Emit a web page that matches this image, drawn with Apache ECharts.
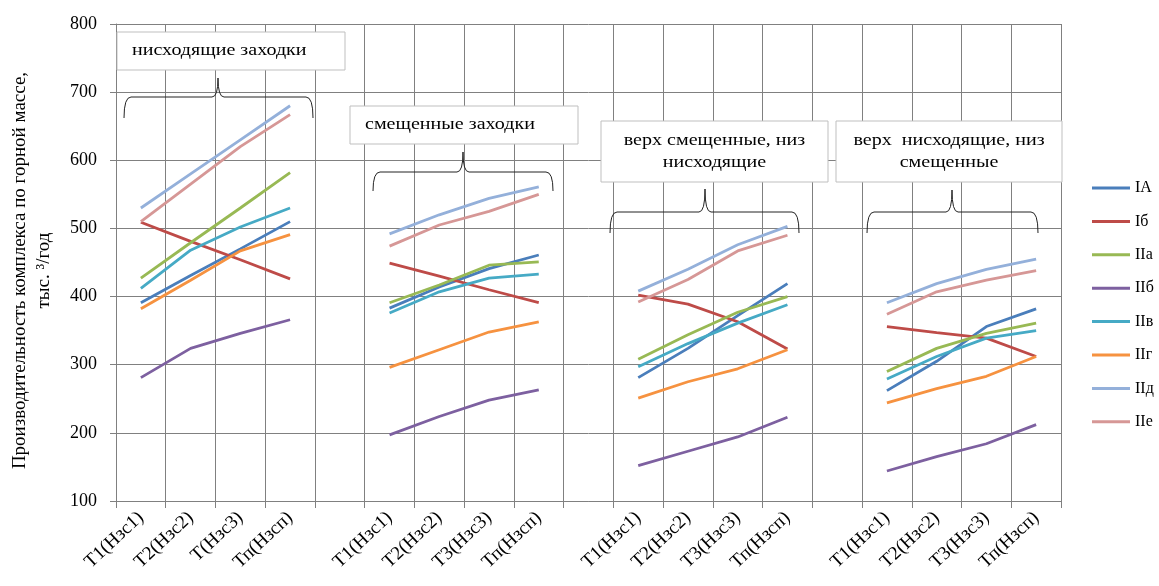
<!DOCTYPE html>
<html>
<head>
<meta charset="utf-8">
<script src="https://cdn.jsdelivr.net/npm/echarts@6/dist/echarts.min.js"></script>
<style>
html,body{margin:0;padding:0;background:#fff;}
#chart{width:1159px;height:586px;}
</style>
</head>
<body>
<div id="chart"></div>
<script>
const categories = [
  'Т1(Нзс1)','Т2(Нзс2)','Т(Нзс3)','Тп(Нзсп)','',
  'Т1(Нзс1)','Т2(Нзс2)','Т3(Нзс3)','Тп(Нзсп)','',
  'Т1(Нзс1)','Т2(Нзс2)','Т3(Нзс3)','Тп(Нзсп)','',
  'Т1(Нзс1)','Т2(Нзс2)','Т3(Нзс3)','Тп(Нзсп)'
];
const seriesNames = ['IA','Iб','IIа','IIб','IIв','IIг','IIд','IIе'];
const sIA  = [391,431,470,510,null, 383,414,441,461,null, 281,324,372,419,null, 262,305,356,382];
const sIb  = [509,481,454,426,null, 449,430,410,391,null, 402,389,363,323,null, 356,347,339,312];
const sIIa = [427,479,530,582,null, 391,417,446,451,null, 308,344,377,400,null, 290,324,346,361];
const sIIb = [281,324,346,366,null, 197,224,248,263,null, 152,173,194,223,null, 144,165,184,212];
const sIIv = [412,468,502,530,null, 376,407,427,433,null, 297,331,361,388,null, 279,312,339,350];
const sIIg = [382,424,467,491,null, 296,322,348,363,null, 251,275,294,322,null, 244,265,283,312];
const sIId = [530,580,630,680,null, 492,520,544,561,null, 408,440,476,503,null, 391,419,440,455];
const sIIe = [510,565,620,667,null, 474,505,525,550,null, 392,425,467,490,null, 374,407,424,438];
const yTicks = [100,200,300,400,500,600,700,800];

const colors = ['#4A7EBB','#BE4B48','#98B954','#7D60A0','#46AAC5','#F69240','#94B0DA','#D69796'];
const allData = [sIA,sIb,sIIa,sIIb,sIIv,sIIg,sIId,sIIe];

const FONT = '"Liberation Serif","DejaVu Serif",serif';
const braceStyle = {fill:null, stroke:'#222', lineWidth:1};

function brace(x1, x2, yh, yb, xp, yp) {
  const els = [];
  els.push({type:'bezierCurve', z:100, shape:{x1:x1, y1:yb, cpx1:x1, cpy1:yh, x2:x1+7, y2:yh}, style:braceStyle});
  els.push({type:'line', z:100, shape:{x1:x1+7, y1:yh, x2:xp-6, y2:yh}, style:braceStyle});
  els.push({type:'bezierCurve', z:100, shape:{x1:xp-6, y1:yh, cpx1:xp, cpy1:yh, x2:xp, y2:yp}, style:braceStyle});
  els.push({type:'bezierCurve', z:100, shape:{x1:xp, y1:yp, cpx1:xp, cpy1:yh, x2:xp+6, y2:yh}, style:braceStyle});
  els.push({type:'line', z:100, shape:{x1:xp+6, y1:yh, x2:x2-7, y2:yh}, style:braceStyle});
  els.push({type:'bezierCurve', z:100, shape:{x1:x2-7, y1:yh, cpx1:x2, cpy1:yh, x2:x2, y2:yb}, style:braceStyle});
  return els;
}
function box(x, y, w, h, text, align) {
  return [
    {type:'rect', z:100, shape:{x:x, y:y, width:w, height:h}, style:{fill:'#fff', stroke:'#bfbfbf', lineWidth:1}},
    {type:'text', z:101, x: align === 'center' ? x + w/2 : x + 15, y: y + h/2, scaleX:1.18,
     style:{text:text, fill:'#000', font:'17px ' + FONT, textAlign: align, textVerticalAlign:'middle', lineHeight:22}}
  ];
}

const chart = echarts.init(document.getElementById('chart'));
chart.setOption({
  animation: false,
  color: colors,
  grid: {left:116, right:98, top:24, bottom:85, containLabel:false},
  legend: {
    orient:'vertical', left:1092, top:180, padding:0, itemWidth:38, itemHeight:3, itemGap:17.4,
    icon:'rect',
    textStyle:{fontFamily:FONT, fontSize:16, color:'#000', lineHeight:16},
    data: seriesNames
  },
  xAxis: {
    type:'category', data:categories, boundaryGap:true,
    axisLine:{show:true, lineStyle:{color:'#808080', width:1}},
    axisTick:{show:true, length:7, lineStyle:{color:'#808080'}, interval:0},
    splitLine:{show:true, interval:0, lineStyle:{color:'#808080', width:1}},
    axisLabel:{interval:0, rotate:43, margin:14, fontFamily:FONT, fontSize:19, color:'#000'}
  },
  yAxis: {
    type:'value', min:yTicks[0], max:yTicks[yTicks.length-1], interval:100,
    name:'Производительность комплекса по горной массе,\nтыс. ³/год',
    nameLocation:'middle', nameGap:60, nameRotate:90,
    nameTextStyle:{fontFamily:FONT, fontSize:19, color:'#000', lineHeight:24, padding:[0,0,0,-16]},
    axisLine:{show:true, lineStyle:{color:'#808080', width:1}},
    axisTick:{show:true, length:6, lineStyle:{color:'#808080'}},
    splitLine:{show:true, lineStyle:{color:'#808080', width:1}},
    axisLabel:{margin:19, fontFamily:FONT, fontSize:18, color:'#000'}
  },
  series: seriesNames.map((n, i) => ({
    name:n, type:'line', data:allData[i], symbol:'none', connectNulls:false,
    lineStyle:{width:2.8, color:colors[i]}, itemStyle:{color:colors[i]}
  })),
  graphic: [].concat(
    box(117, 32, 228, 38, 'нисходящие заходки', 'left'),
    box(350, 106, 228, 38, 'смещенные заходки', 'left'),
    box(601, 121, 227, 61, 'верх смещенные, низ\nнисходящие', 'center'),
    box(836, 121, 226, 61, 'верх  нисходящие, низ\nсмещенные', 'center'),
    brace(124, 313, 97, 118, 218, 78),
    brace(373, 553, 172, 191, 463, 152),
    brace(610, 799, 212, 233, 705, 189),
    brace(867, 1038, 212, 233, 952, 190)
  )
});
</script>
</body>
</html>
